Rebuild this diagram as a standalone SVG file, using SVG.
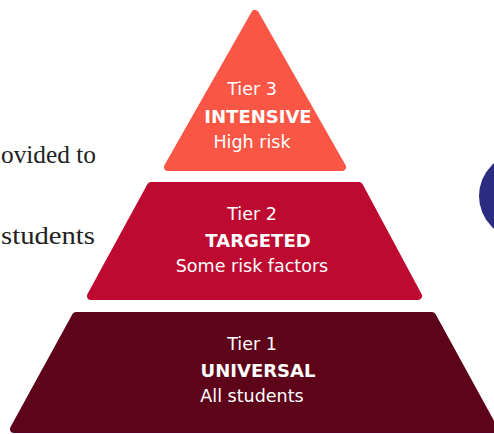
<svg xmlns="http://www.w3.org/2000/svg" width="494" height="434" viewBox="0 0 494 434">
<style>
.tier{stroke-width:8;stroke-linejoin:round}
.t3{fill:#F95646;stroke:#F95646}
.t2{fill:#BE0930;stroke:#BE0930}
.t1{fill:#5E041A;stroke:#5E041A}
.lbl{font-family:"DejaVu Sans","Liberation Sans",sans-serif;font-size:17.5px;fill:#ffffff;text-anchor:middle}
.b{font-weight:700;font-size:18px}
.side{font-family:"Liberation Serif",serif;font-size:25px;fill:#222222;text-anchor:end}
</style>
<rect width="494" height="434" fill="#ffffff"/>
<text class="side" x="96" y="163" textLength="95" lengthAdjust="spacingAndGlyphs">ovided to</text>
<text class="side" x="95" y="244" textLength="94" lengthAdjust="spacingAndGlyphs">students</text>
<circle cx="522" cy="196" r="43" fill="#2B2B82"/>
<g id="tier3">
<path class="tier t3" d="M255 14 L342 167 L168 167 Z"/>
<text class="lbl" x="252" y="95">Tier 3</text>
<text class="lbl b" x="258" y="123">INTENSIVE</text>
<text class="lbl" x="252" y="148">High risk</text>
</g>
<g id="tier2">
<path class="tier t2" d="M151 186 L359 186 L418 296 L91 296 Z"/>
<text class="lbl" x="252" y="220">Tier 2</text>
<text class="lbl b" x="258" y="247">TARGETED</text>
<text class="lbl" x="252" y="272">Some risk factors</text>
</g>
<g id="tier1">
<path class="tier t1" d="M76 316 L432 316 L494 429 L14 429 Z"/>
<text class="lbl" x="252" y="350">Tier 1</text>
<text class="lbl b" x="258" y="377">UNIVERSAL</text>
<text class="lbl" x="252" y="402">All students</text>
</g>
<g id="connectors"></g>
</svg>
